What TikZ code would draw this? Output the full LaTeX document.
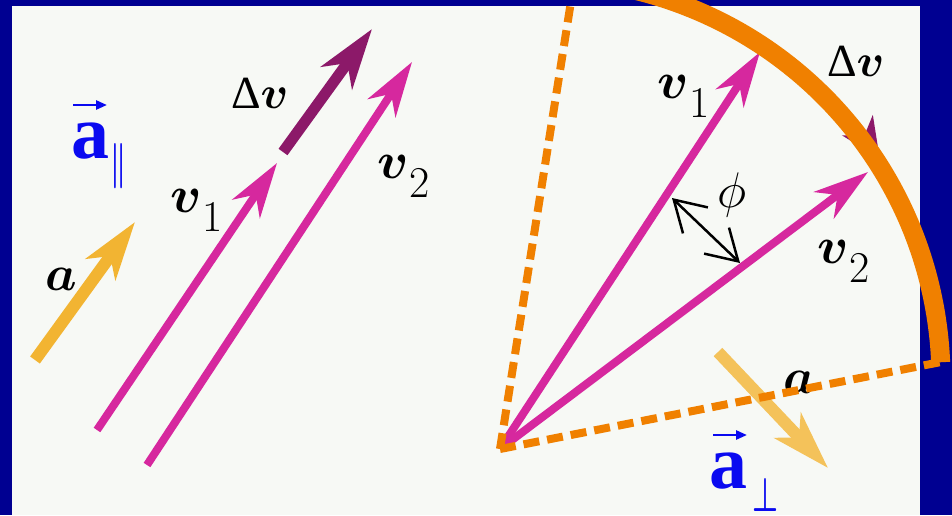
\documentclass[tikz,border=0pt]{standalone}
\usepackage{fix-cm}
\usepackage{fontspec}
\usepackage{amsmath}
\usetikzlibrary{arrows.meta}
\newfontfamily\timesfont{Liberation Serif}
\definecolor{navy}{RGB}{0,0,145}
\definecolor{paper}{RGB}{247,249,245}
\definecolor{mag}{RGB}{214,40,158}
\definecolor{magdark}{RGB}{140,25,105}
\definecolor{orng}{RGB}{240,128,0}
\definecolor{yel}{RGB}{242,180,50}
\definecolor{yelR}{RGB}{244,194,90}
\definecolor{vblue}{RGB}{10,10,240}
\newcommand\vlab[1]{$\boldsymbol{v}$\kern1pt\raisebox{-19pt}{\fontsize{44}{44}\selectfont #1}}
\newcommand\dvlab{{\timesfont Δ}$\boldsymbol{v}$}
\tikzset{
  lbl/.style={inner sep=0pt, outer sep=0pt, anchor=base west, text=black, font=\fontsize{52}{52}\selectfont},
  dvtext/.style={lbl, font=\fontsize{46}{46}\selectfont},
  bluea/.style={inner sep=0pt, outer sep=0pt, anchor=base west, text=vblue, font=\timesfont\bfseries\fontsize{76}{76}\selectfont},
  bluesub/.style={inner sep=0pt, outer sep=0pt, anchor=south west, text=vblue},
  vecbar/.style={draw=vblue, line width=2.5pt, -{Triangle[length=11pt,width=9pt]}},
  magarrow/.style={draw=mag, line width=8pt, -{Stealth[length=55pt,width=33pt,inset=17pt]}},
  dvarrow/.style={draw=magdark, line width=11pt, -{Stealth[length=60pt,width=38pt,inset=18pt]}},
  yelarrow/.style={line width=12pt, -{Stealth[length=58pt,width=36pt,inset=16pt]}},
  phiarrow/.style={draw=black, line width=2.5pt, {Straight Barb[length=30pt,width=36pt]}-{Straight Barb[length=30pt,width=36pt]}},
  dashedge/.style={draw=orng, line width=8pt, dash pattern=on 16pt off 8pt},
  arcline/.style={draw=orng, line width=19pt}
}
\begin{document}
\begin{tikzpicture}[x=1pt, y=-1pt]
\useasboundingbox (0,0) rectangle (952,515);
\clip (0,0) rectangle (952,515);
\fill[navy] (0,0) rectangle (952,515);
\fill[paper] (12,6) rectangle (920,515);

% ---------- left figure ----------
\coordinate (aLt) at (35,360);   \coordinate (aLh) at (135,222);
\coordinate (v1Lt) at (97,430);  \coordinate (v1Lh) at (277,163);
\coordinate (v2Lt) at (147,465); \coordinate (v2Lh) at (412,62);
\coordinate (dvLt) at (283,152); \coordinate (dvLh) at (372,29);

\draw[yelarrow, draw=yel, -{Stealth[length=58pt,width=36pt,inset=16pt,fill=yel]}] (aLt) -- (aLh);
\draw[magarrow] (v1Lt) -- (v1Lh);
\draw[magarrow] (v2Lt) -- (v2Lh);
\draw[dvarrow] (dvLt) -- (dvLh);

\node[dvtext] (dvL) at (231,108) {\dvlab};
\node[lbl] (v1L) at (170,212) {\vlab{1}};
\node[lbl] (v2L) at (377,178) {\vlab{2}};
\node[lbl, font=\fontsize{50}{50}\selectfont] (aL) at (45,290) {$\boldsymbol{a}$};

\node[bluea] (aPar) at (71,158) {a};
\coordinate (barLa) at (73,105); \coordinate (barLb) at (107,105);
\draw[vecbar] (barLa) -- (barLb);
\node[bluesub] (par) at (110,189) {\resizebox{16pt}{34pt}{\boldmath$\|$}};

% ---------- right figure ----------
\coordinate (O) at (500,449);
\coordinate (v1Rh) at (760,52);
\coordinate (v2Rh) at (868,172);
\coordinate (phiA) at (672,198);
\coordinate (phiB) at (740,263);
\coordinate (aRt) at (718,352); \coordinate (aRh) at (828,468);
\coordinate (topEnd) at (572,-5);
\coordinate (sideEnd) at (946,361);

\draw[yelarrow, draw=yelR, -{Stealth[length=58pt,width=36pt,inset=16pt,fill=yelR]}] (aRt) -- (aRh);
\draw[magarrow] (O) -- (v1Rh);
\draw[magarrow] (O) -- (v2Rh);
\draw[phiarrow] (phiA) -- (phiB);

% Delta v along the arc (mostly hidden)
\draw[draw=magdark, line width=8pt, -{Stealth[length=40pt,width=36pt,inset=12pt]}]
  plot[domain=-56:-33, samples=40] ({541+404*cos(\x)},{379+404*sin(\x)});

\node[lbl] (v1R) at (657,98) {\vlab{1}};
\node[lbl] (v2R) at (817,263) {\vlab{2}};
\node[dvtext] (dvR) at (827,76) {\dvlab};
\node[lbl, font=\fontsize{50}{50}\selectfont] (phi) at (717,207) {$\phi$};
\node[lbl, font=\fontsize{50}{50}\selectfont] (aR) at (783,393) {$\boldsymbol{a}$};

\node[bluea] (aPerp) at (709,488) {a};
\coordinate (barRa) at (713,435); \coordinate (barRb) at (747,435);
\draw[vecbar] (barRa) -- (barRb);
\node[bluesub] (perp) at (752,511) {\resizebox{26pt}{33pt}{\boldmath$\perp$}};

% orange sector
\draw[arcline] plot[domain=-78:-2.4, samples=90] ({541+400*cos(\x)},{379+400*sin(\x)});
\draw[dashedge] (O) -- (topEnd);
\draw[dashedge] (O) -- (sideEnd);
\end{tikzpicture}
\end{document}
